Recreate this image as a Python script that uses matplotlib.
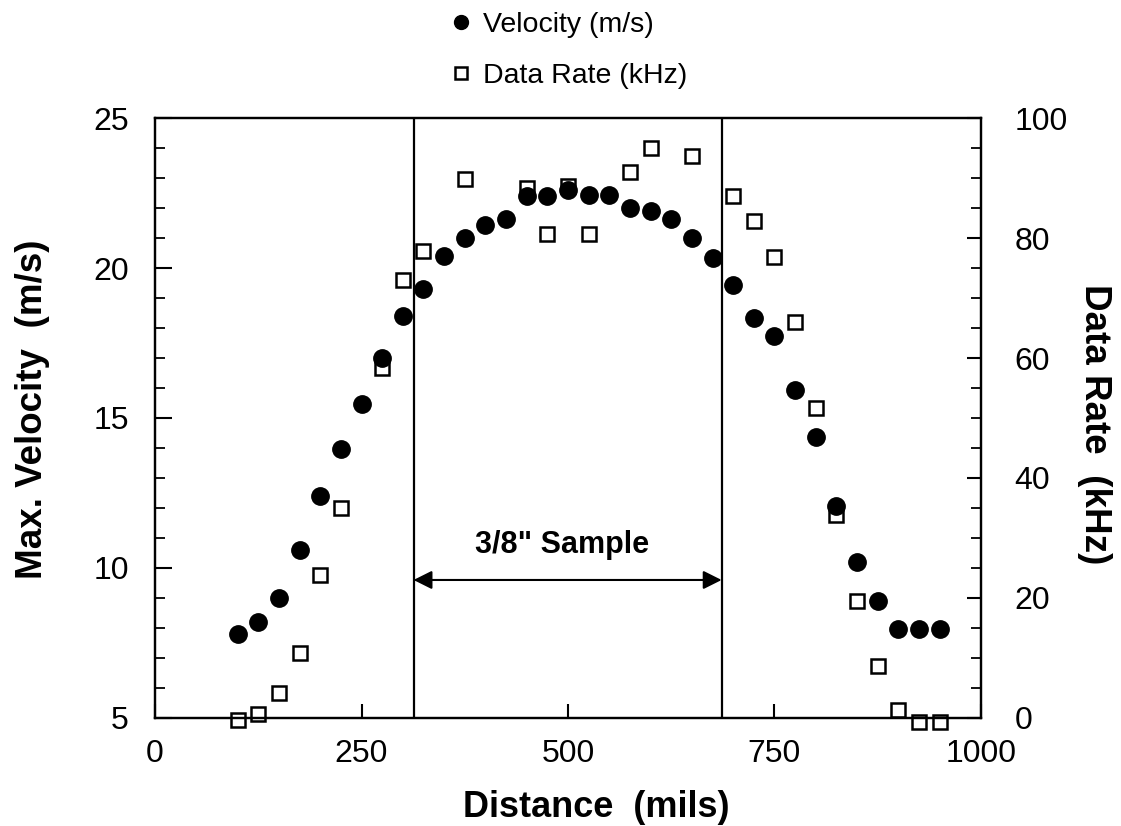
import matplotlib
matplotlib.use('Agg')
import matplotlib.pyplot as plt
from matplotlib.ticker import MultipleLocator

plt.rcParams['font.family'] = ['Liberation Sans', 'DejaVu Sans']

# Max. velocity (m/s), one point every 25 mils
dist_vel = [100, 125, 150, 175, 200, 225, 250, 275, 300, 325, 350, 375, 400, 425,
            450, 475, 500, 525, 550, 575, 600, 625, 650, 675, 700, 725, 750, 775,
            800, 825, 850, 875, 900, 925, 950]
velocity = [7.8, 8.2, 9.0, 10.6, 12.4, 13.95, 15.45, 17.0, 18.4, 19.3, 20.4, 21.0, 21.45, 21.65,
            22.4, 22.4, 22.6, 22.45, 22.45, 22.0, 21.9, 21.65, 21.0, 20.35, 19.45, 18.35, 17.75, 15.95,
            14.35, 12.05, 10.2, 8.9, 7.95, 7.95, 7.95]

# Data rate (kHz)
dist_rate = [100, 125, 150, 175, 200, 225, 275, 300, 325, 375, 450, 475, 500, 525,
             575, 600, 650, 700, 725, 750, 775, 800, 825, 850, 875, 900, 925, 950]
data_rate = [-0.4, 0.7, 4.2, 10.9, 23.8, 35.0, 58.4, 73.0, 77.9, 89.8, 88.4, 80.7, 88.6, 80.7,
             91.0, 95.0, 93.7, 87.0, 82.8, 76.9, 66.0, 51.7, 33.8, 19.5, 8.7, 1.4, -0.6, -0.6]

# sample boundaries (mils)
sample_edges = [313, 686]

fig = plt.figure(figsize=(11.21, 8.26), dpi=100)
ax = fig.add_axes([0.1383, 0.1308, 0.7368, 0.7263])
ax2 = ax.twinx()

l1, = ax.plot(dist_vel, velocity, 'o', color='black', ms=12.5, ls='none',
              clip_on=False, zorder=3, label='Velocity (m/s)')
l2, = ax2.plot(dist_rate, data_rate, 's', mfc='white', mec='black', mew=1.8, ms=10.5,
               ls='none', clip_on=False, zorder=2, label='Data Rate (kHz)')
ax.set_zorder(ax2.get_zorder() + 1)
ax.patch.set_visible(False)

for xe in sample_edges:
    ax.axvline(xe, color='black', lw=1.6)

ax.annotate('', xy=(sample_edges[0], 9.6), xytext=(sample_edges[1], 9.6),
            arrowprops=dict(arrowstyle='<|-|>', color='black', lw=1.5, mutation_scale=28,
                            shrinkA=0, shrinkB=0))
ax.text(sum(sample_edges) / 2 - 7, 10.75, '3/8" Sample', ha='center', va='center',
        fontsize=22, fontweight='bold')

ax.set_xlim(0, 1000)
ax.set_ylim(5, 25)
ax2.set_ylim(0, 100)

ax.xaxis.set_major_locator(MultipleLocator(250))
ax.yaxis.set_major_locator(MultipleLocator(5))
ax.yaxis.set_minor_locator(MultipleLocator(1))
ax2.yaxis.set_major_locator(MultipleLocator(20))
ax2.yaxis.set_minor_locator(MultipleLocator(5))

ax.tick_params(axis='x', direction='in', length=10, width=1.5, labelsize=23, pad=15, top=False)
ax.tick_params(axis='y', which='major', direction='in', length=12, width=1.5, labelsize=23,
               pad=19, right=False)
ax.tick_params(axis='y', which='minor', direction='in', length=7, width=1.3, right=False)
ax2.tick_params(axis='y', which='major', direction='in', length=10, width=1.5, labelsize=23,
                pad=24, left=False)
ax2.tick_params(axis='y', which='minor', direction='in', length=7, width=1.3, left=False)

for a in (ax, ax2):
    for s in a.spines.values():
        s.set_linewidth(1.6)

ax.set_xlabel('Distance  (mils)', fontsize=26, fontweight='bold', labelpad=15, x=0.534)
ax.set_ylabel('Max. Velocity  (m/s)', fontsize=26.5, fontweight='bold', labelpad=31, y=0.515)
ax2.set_ylabel('Data Rate  (kHz)', fontsize=26.5, fontweight='bold', rotation=270,
               labelpad=32, y=0.49)

fig.legend(handles=[l1, l2], loc='upper left', bbox_to_anchor=(0.3785, 1.016), frameon=False,
           fontsize=20.5, handlelength=0.8, handletextpad=0.37, labelspacing=0.85,
           markerscale=0.8)

fig.savefig('out.png', dpi=100)
